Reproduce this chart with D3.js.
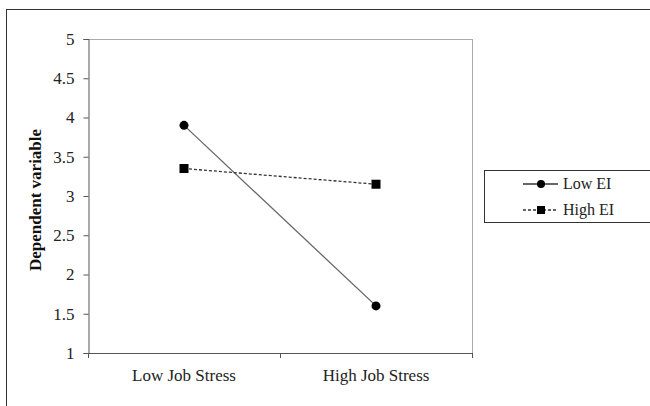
<!DOCTYPE html>
<html><head><meta charset="utf-8">
<script src="https://cdn.jsdelivr.net/npm/d3@7/dist/d3.min.js"></script>
<style>body{margin:0;background:#fff}svg{display:block}text{font-family:"Liberation Serif","Times New Roman",serif}</style>
</head><body><svg id="c" width="650" height="406"></svg>
<script>
const categories = ["Low Job Stress", "High Job Stress"];
const lowEI = [3.9, 1.6];
const highEI = [3.35, 3.15];
const yTicks = [1, 1.5, 2, 2.5, 3, 3.5, 4, 4.5, 5];
const seriesNames = ["Low EI", "High EI"];

const svg = d3.select("#c");
// outer frame
svg.append("rect").attr("x",6.5).attr("y",9.5).attr("width",700).attr("height",500)
  .attr("fill","none").attr("stroke","#333").attr("stroke-width",1);

const L=88, R=472, T=39, B=353;
const x = d3.scaleBand().domain(categories).range([L,R]);
const y = d3.scaleLinear().domain([1,5]).range([B,T]);

// plot border top/right
svg.append("line").attr("x1",L).attr("x2",R).attr("y1",T+0.5).attr("y2",T+0.5).attr("stroke","#aaa");
svg.append("line").attr("x1",R+0.5).attr("x2",R+0.5).attr("y1",T).attr("y2",B).attr("stroke","#aaa");

const yAxis = svg.append("g").attr("transform",`translate(${L+0.5},0)`)
  .call(d3.axisLeft(y).tickValues(yTicks).tickSize(5).tickPadding(9).tickFormat(d=>String(d)));
yAxis.select(".domain").attr("stroke","#555");
yAxis.selectAll(".tick line").attr("stroke","#555");
yAxis.selectAll("text").attr("font-size",17).attr("fill","#222").attr("font-family","Liberation Serif");

const xAxis = svg.append("g").attr("transform",`translate(0,${B+0.5})`)
  .call(d3.axisBottom(x).tickSize(0).tickPadding(15));
xAxis.select(".domain").attr("stroke","#555").attr("d",`M${L},0H${R}`);
xAxis.selectAll("text").attr("font-size",17).attr("fill","#222").attr("font-family","Liberation Serif");
// category boundary ticks
const bounds = [L, L + x.bandwidth(), R];
svg.selectAll(".xb").data(bounds).enter().append("line")
  .attr("x1",d=>d+0.5).attr("x2",d=>d+0.5).attr("y1",B).attr("y2",B+5).attr("stroke","#555");

// y label
svg.append("text").attr("transform",`translate(41,200) rotate(-90)`)
  .attr("text-anchor","middle").attr("font-size",17).attr("font-weight","bold").attr("fill","#111")
  .text("Dependent  variable");

const cx = d => x(d) + x.bandwidth()/2;
const line = d3.line().x(d=>cx(d.c)).y(d=>y(d.v));
const lowData = categories.map((c,i)=>({c, v: lowEI[i]}));
const highData = categories.map((c,i)=>({c, v: highEI[i]}));

svg.append("path").datum(lowData).attr("d",line).attr("fill","none").attr("stroke","#666").attr("stroke-width",1.3);
svg.append("path").datum(highData).attr("d",line).attr("fill","none").attr("stroke","#333").attr("stroke-width",1.3).attr("stroke-dasharray","3,2");

svg.selectAll(".cir").data(lowData).enter().append("circle")
  .attr("cx",d=>cx(d.c)).attr("cy",d=>y(d.v)).attr("r",4.5).attr("fill","#000");
svg.selectAll(".sq").data(highData).enter().append("rect")
  .attr("x",d=>cx(d.c)-4.5).attr("y",d=>y(d.v)-4.5).attr("width",9).attr("height",9).attr("fill","#000");

// legend
const lg = svg.append("g");
lg.append("rect").attr("x",484.5).attr("y",170.5).attr("width",200).attr("height",52).attr("fill","#fff").attr("stroke","#333");
const rows = [184, 210];
lg.append("line").attr("x1",523).attr("x2",558).attr("y1",rows[0]).attr("y2",rows[0]).attr("stroke","#333").attr("stroke-width",1.3);
lg.append("circle").attr("cx",541).attr("cy",rows[0]).attr("r",4).attr("fill","#000");
lg.append("line").attr("x1",523).attr("x2",558).attr("y1",rows[1]).attr("y2",rows[1]).attr("stroke","#333").attr("stroke-width",1.3).attr("stroke-dasharray","3,2");
lg.append("rect").attr("x",537).attr("y",rows[1]-4).attr("width",8).attr("height",8).attr("fill","#000");
lg.selectAll(".lt").data(seriesNames).enter().append("text")
  .attr("x",563).attr("y",(d,i)=>rows[i]+5).attr("font-size",16).attr("fill","#222").text(d=>d);
</script></body></html>
